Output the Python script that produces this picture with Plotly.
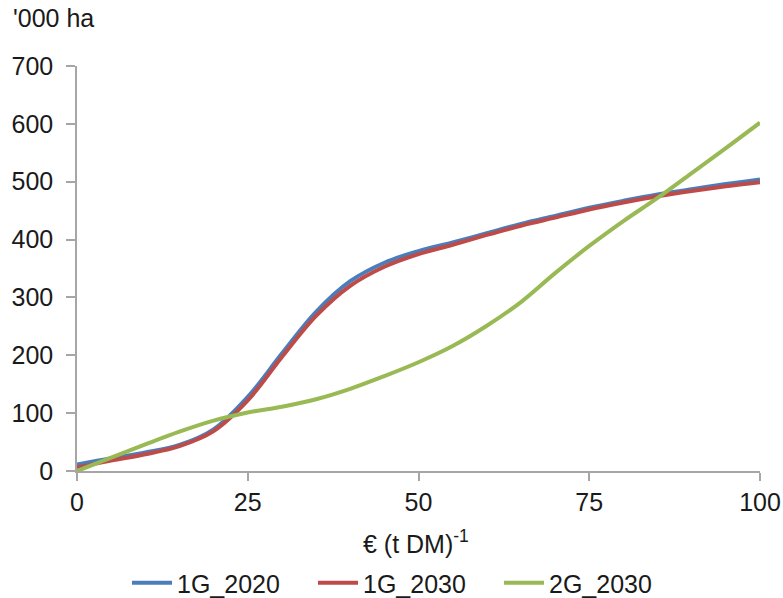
import plotly.graph_objects as go

x = [0, 5, 10, 15, 20, 25, 30, 35, 40, 45, 50, 55, 60, 65, 70, 75, 80, 85, 90, 95, 100]
g1_2020 = [11, 22, 32, 45, 72, 128, 203, 275, 328, 360, 380, 395, 411, 427, 441, 455, 467, 478, 487, 496, 504]
g1_2030 = [6, 18, 29, 43, 69, 122, 197, 268, 320, 353, 375, 391, 408, 424, 438, 452, 464, 475, 484, 492, 499]
g2_2030 = [0, 23, 46, 68, 87, 101, 111, 124, 142, 164, 188, 216, 251, 292, 342, 389, 432, 472, 515, 558, 602]

names = ["1G_2020", "1G_2030", "2G_2030"]
colors = ["#4a7ebb", "#be4b48", "#98b954"]
x_ticks = [0, 25, 50, 75, 100]
y_ticks = [0, 100, 200, 300, 400, 500, 600, 700]

W, H = 783, 598
L, R, T, B = 77, 760, 66, 471
PW, PH = R - L, B - T

FONT = "Liberation Sans, Arial, sans-serif"
fig = go.Figure()
for name, ys, c in zip(names, [g1_2020, g1_2030, g2_2030], colors):
    fig.add_trace(go.Scatter(x=x, y=ys, name=name, mode="lines",
                             line=dict(color=c, width=4, shape="spline", smoothing=1.0)))

axis_common = dict(showgrid=False, zeroline=False, showline=True, linecolor="#a6a6a6",
                   linewidth=1.5, ticks="outside", tickcolor="#a6a6a6", tickwidth=1.5,
                   automargin=False, ticklabeloverflow="allow",
                   tickfont=dict(family=FONT, size=25, color="#1a1a1a"))
fig.update_xaxes(range=[0, 100], tickvals=x_ticks, ticklen=8, **axis_common)
fig.update_yaxes(range=[0, 700], tickvals=y_ticks, ticklen=9, ticklabelstandoff=8, **axis_common)

fig.update_layout(
    width=W, height=H,
    margin=dict(l=L, r=W - R, t=T, b=H - B, autoexpand=False),
    paper_bgcolor="white", plot_bgcolor="white",
    font=dict(family=FONT, size=25, color="#1a1a1a"),
    title=dict(text="'000 ha", x=13 / W, xanchor="left", y=1 - 18 / H, yanchor="middle",
               font=dict(family=FONT, size=25, color="#1a1a1a")),
    showlegend=True,
    legend=dict(orientation="h", x=(127 - L) / PW, xanchor="left", y=-(583 - B) / PH, yanchor="middle",
                font=dict(family=FONT, size=25, color="#1a1a1a"), itemwidth=40,
                entrywidth=131, entrywidthmode="pixels",
                bgcolor="rgba(0,0,0,0)"),
    annotations=[dict(text="€ (t DM)<sup>-1</sup>", xref="paper", yref="paper",
                      x=(416 - L) / PW, y=-(542 - B) / PH, xanchor="center", yanchor="middle",
                      showarrow=False, font=dict(family=FONT, size=25, color="#1a1a1a"))],
)

fig.write_html("out.html", config={"displayModeBar": False},
               post_script="document.body.style.margin='0';document.body.style.overflow='hidden';")
